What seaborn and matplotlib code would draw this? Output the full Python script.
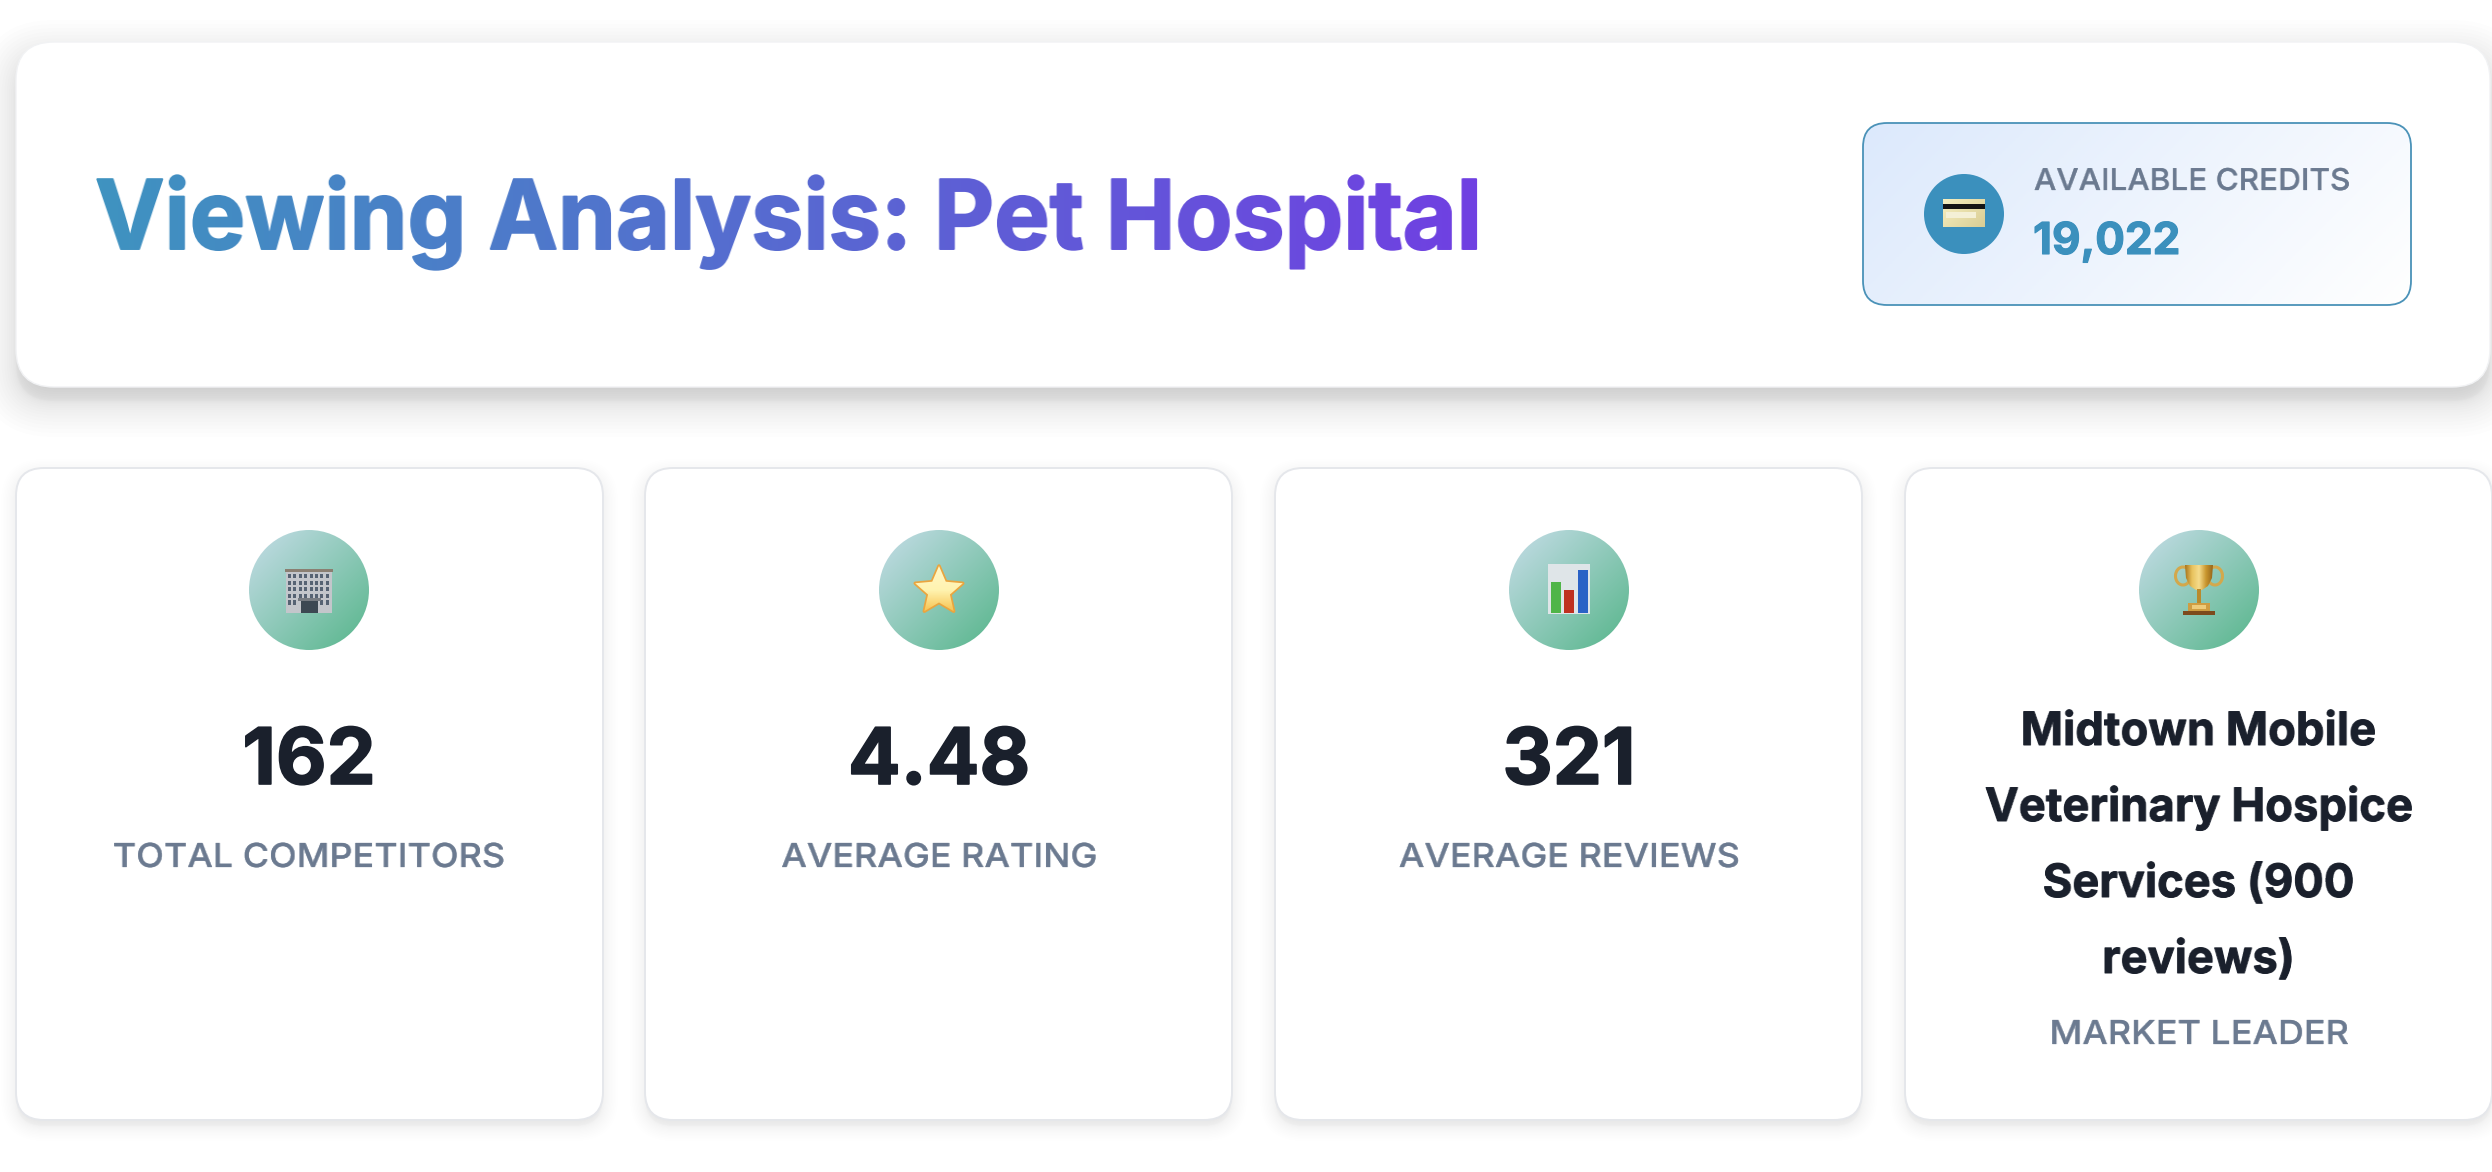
"""Viewing analysis header and KPI cards, drawn in pixel space on one axes."""

import matplotlib
matplotlib.use("Agg")
import matplotlib.patheffects as pe
import matplotlib.pyplot as plt
import numpy as np
import seaborn as sns
from matplotlib.patches import Arc, Circle, FancyBboxPatch, Polygon, Rectangle

# data
title_text = "Viewing Analysis: Pet Hospital"
credits_label = "AVAILABLE CREDITS"
credits_value = "19,022"
kpi_labels = ["TOTAL COMPETITORS", "AVERAGE RATING", "AVERAGE REVIEWS", "MARKET LEADER"]
kpi_values = ["162", "4.48", "321"]
leader_lines = ["Midtown Mobile", "Veterinary Hospice", "Services (900", "reviews)"]

W, H = 2492, 1172
PX = 0.72  # px to pt at dpi 100

INK = "#1a202c"
MUTED = "#6b7a90"
BLUE = "#3b90bd"

sns.set_theme(style="white")
plt.rcParams["font.family"] = ["Inter", "DejaVu Sans"]

fig, ax = plt.subplots(figsize=(W / 100, H / 100), dpi=100)
fig.subplots_adjust(0, 0, 1, 1)
ax.set_axis_off()


def px_text(x, y, s, size, heavier=0, **kw):
    kw.setdefault("va", "baseline")
    t = ax.text(x, y, s, fontsize=size * PX, **kw)
    if heavier:
        # thicken the glyphs a touch, the installed weights run light
        t.set_path_effects([pe.withStroke(linewidth=heavier, foreground=kw.get("color", "black"))])
    return t


def round_box(x0, y0, x1, y1, r, **kw):
    return FancyBboxPatch((x0, y0), x1 - x0, y1 - y0,
                          boxstyle=f"round,pad=0,rounding_size={r}", **kw)


def shadow(x0, y0, x1, y1, r, dy, blur, strength, z=1):
    # stacked translucent boxes stand in for a css box-shadow
    n = 30
    for i in range(n):
        u = 1 - 2 * i / (n - 1)
        s = blur * np.sign(u) * abs(u) ** 1.7
        ax.add_patch(round_box(x0 - s, y0 - s + dy, x1 + s, y1 + s + dy, max(r + s, 1),
                               fc="black", ec="none", alpha=strength / n, zorder=z))


def gradient(patch, colors, extent, z, kind="diag"):
    # blend clipped to the patch, 135deg like css or plain left to right
    x0, x1, y0, y1 = extent
    ax.add_patch(patch)
    pal = np.array(sns.blend_palette(colors, n_colors=256))
    u, v = np.meshgrid(np.linspace(0, 1, 160), np.linspace(0, 1, 160))
    if kind == "diag":
        w, h = x1 - x0, y1 - y0
        pos = (u * w + v * h) / (w + h)
    elif kind == "down":
        pos = v
    else:
        pos = u
    im = ax.imshow(pal[(pos * 255).astype(int)], extent=(x0, x1, y1, y0), origin="upper",
                   aspect="auto", zorder=z, interpolation="bilinear")
    im.set_clip_path(patch)


def text_gradient(c0, c1):
    pal = np.array(sns.blend_palette([c0, c1], n_colors=512))

    def apply(img, dpi):
        out = img.copy()
        idx = np.linspace(0, 511, img.shape[1]).astype(int)
        out[..., :3] = pal[idx][None, :, :]
        return out, 0, 0
    return apply


def tracked(factor, centred=True, then=None):
    # matplotlib has no letter spacing, so stretch the rendered run a little
    def apply(img, dpi):
        h, w = img.shape[:2]
        new_w = int(round(w * factor))
        xs = np.linspace(0, w - 1, new_w)
        lo = np.floor(xs).astype(int)
        hi = np.minimum(lo + 1, w - 1)
        t = (xs - lo)[None, :, None]
        out = img[:, lo] * (1 - t) + img[:, hi] * t
        if then is not None:
            out, _, _ = then(out, dpi)
        return out, -(new_w - w) // 2 if centred else 0, 0
    return apply


# header card
shadow(16, 42, 2490, 387, 38, 14, 36, 0.2)
ax.add_patch(round_box(16, 42, 2490, 387, 38, fc="white", ec="#f1f2f4", lw=1.0, zorder=2))
t = px_text(95, 249, title_text, 96, heavier=1.4, fontweight="bold", zorder=5, color="#5a60d0")
t.set_agg_filter(tracked(0.97, False, text_gradient("#3f93c0", "#7040e2")))

# credits box
box = round_box(1863, 123, 2411, 305, 24, fc="none", ec="none", transform=ax.transData)
gradient(box, ["#dce9fc", "#ffffff"], (1863, 2411, 123, 305), 3)
ax.add_patch(round_box(1863, 123, 2411, 305, 24, fc="none", ec="#4a92b8", lw=1.3, zorder=4))
ax.add_patch(Circle((1964, 214), 40, fc=BLUE, ec="none", zorder=4))
card = Rectangle((1943, 199), 42, 28, transform=ax.transData, fc="none", ec="none")
gradient(card, ["#f6efc0", "#d9cd94"], (1943, 1985, 199, 227), 5)
ax.add_patch(Rectangle((1943, 204), 42, 5, fc="#151515", ec="none", zorder=6))
ax.add_patch(Rectangle((1946, 212), 30, 6, fc="#f4f0d6", ec="none", zorder=6))
px_text(2034, 190, credits_label, 30, heavier=0.2, color=MUTED, fontweight="medium",
        zorder=5).set_agg_filter(tracked(1.05, False))
px_text(2033, 254, credits_value, 44, heavier=0.8, color=BLUE, fontweight="bold", zorder=5)

# kpi cards
card_left = [16, 645, 1275, 1905]
card_w = 587
centres = [309, 939, 1569, 2199]


def icon_building(cx, cy):
    ax.add_patch(Rectangle((cx - 23, cy - 20), 46, 43, fc="#c3c6cb", ec="none", zorder=6))
    ax.add_patch(Rectangle((cx - 24, cy - 21), 48, 2.5, fc="#8a7f72", ec="none", zorder=7))
    for row in range(5):
        for col in range(8):
            if row == 4 and 2 <= col <= 5:
                continue
            ax.add_patch(Rectangle((cx - 21 + col * 5.4, cy - 16 + row * 6.6), 3, 4.2,
                                   fc="#566373", ec="none", zorder=7))
    ax.add_patch(Rectangle((cx - 8, cy + 11), 17, 12, fc="#3c4852", ec="none", zorder=8))
    ax.add_patch(Rectangle((cx - 11, cy + 8), 23, 3, fc="#777c82", ec="none", zorder=8))


def icon_star(cx, cy):
    ang = np.deg2rad(np.arange(10) * 36 - 90)
    rad = np.where(np.arange(10) % 2 == 0, 25, 11.5)
    pts = np.c_[cx + rad * np.cos(ang), cy + 1 + rad * np.sin(ang)]
    ax.add_patch(Polygon(pts, closed=True, fc="#f2b84b", ec="#eaa53f", lw=2.5,
                         joinstyle="round", zorder=6))
    inner = Polygon(pts, closed=True, transform=ax.transData, fc="none", ec="none")
    gradient(inner, ["#fff8c8", "#fff3b0", "#f6bd45"], (cx - 25, cx + 25, cy - 24, cy + 24), 7, kind="down")


def icon_bars(cx, cy):
    ax.add_patch(Rectangle((cx - 21, cy - 26), 42, 50, fc="#dfe5e8", ec="none", zorder=6))
    ax.add_patch(Rectangle((cx - 18, cy - 8), 9.5, 31, fc="#4fb548", ec="none", zorder=7))
    ax.add_patch(Rectangle((cx - 5, cy), 10, 23, fc="#bf3020", ec="none", zorder=7))
    ax.add_patch(Rectangle((cx + 9, cy - 20), 10, 43, fc="#2a62c6", ec="none", zorder=7))


def icon_trophy(cx, cy):
    gold = ["#a8741c", "#e8c25e", "#f6dc8c", "#c9962f", "#96651a"]
    for side in (-1, 1):
        ax.add_patch(Arc((cx + side * 16, cy - 14), 15, 18, fc="none", ec="#d3a84c", lw=2.2, zorder=6))
    bowl = Polygon([(cx - 14, cy - 25), (cx + 14, cy - 25), (cx + 13, cy - 12), (cx + 9, cy - 4),
                    (cx + 3, cy), (cx - 3, cy), (cx - 9, cy - 4), (cx - 13, cy - 12)],
                   closed=True, transform=ax.transData, fc="none", ec="none")
    gradient(bowl, gold, (cx - 14, cx + 14, cy - 25, cy + 2), 7, kind="across")
    ax.add_patch(Rectangle((cx - 2, cy - 1), 4, 14, fc="#b98a2c", ec="none", zorder=7))
    ax.add_patch(Rectangle((cx - 11, cy + 13), 22, 8, fc="#cf9d42", ec="none", zorder=7))
    ax.add_patch(Rectangle((cx - 7, cy + 15), 14, 4, fc="#eecb7a", ec="none", zorder=8))
    ax.add_patch(Rectangle((cx - 16, cy + 21), 32, 3.5, fc="#7d4a1c", ec="none", zorder=7))


icons = [icon_building, icon_star, icon_bars, icon_trophy]

for left, cx, draw_icon in zip(card_left, centres, icons):
    shadow(left, 468, left + card_w, 1120, 28, 6, 15, 0.17)
    ax.add_patch(round_box(left, 468, left + card_w, 1120, 28, fc="white", ec="#e5e7eb", lw=1.4, zorder=2))
    disc = Circle((cx, 590), 60, transform=ax.transData, fc="none", ec="none")
    gradient(disc, ["#c6dde8", "#56b58a"], (cx - 60, cx + 60, 530, 650), 3)
    draw_icon(cx, 590)

for cx, value, label in zip(centres, kpi_values, kpi_labels):
    px_text(cx, 784, value, 78, heavier=1.2, color=INK, fontweight="bold", ha="center", zorder=5)
    px_text(cx, 867, label, 33, heavier=0.2, color=MUTED, fontweight="medium", ha="center",
            zorder=5).set_agg_filter(tracked(1.09))

for i, line in enumerate(leader_lines):
    px_text(centres[3], 745 + i * 76, line, 46, heavier=0.7, color=INK, fontweight="bold",
            ha="center", zorder=5).set_agg_filter(tracked(0.985))
px_text(centres[3], 1044, kpi_labels[3], 33, heavier=0.2, color=MUTED, fontweight="medium",
        ha="center", zorder=5).set_agg_filter(tracked(1.09))

ax.set_xlim(0, W)
ax.set_ylim(H, 0)
fig.savefig("out.png", dpi=100, facecolor="white")
plt.close(fig)
